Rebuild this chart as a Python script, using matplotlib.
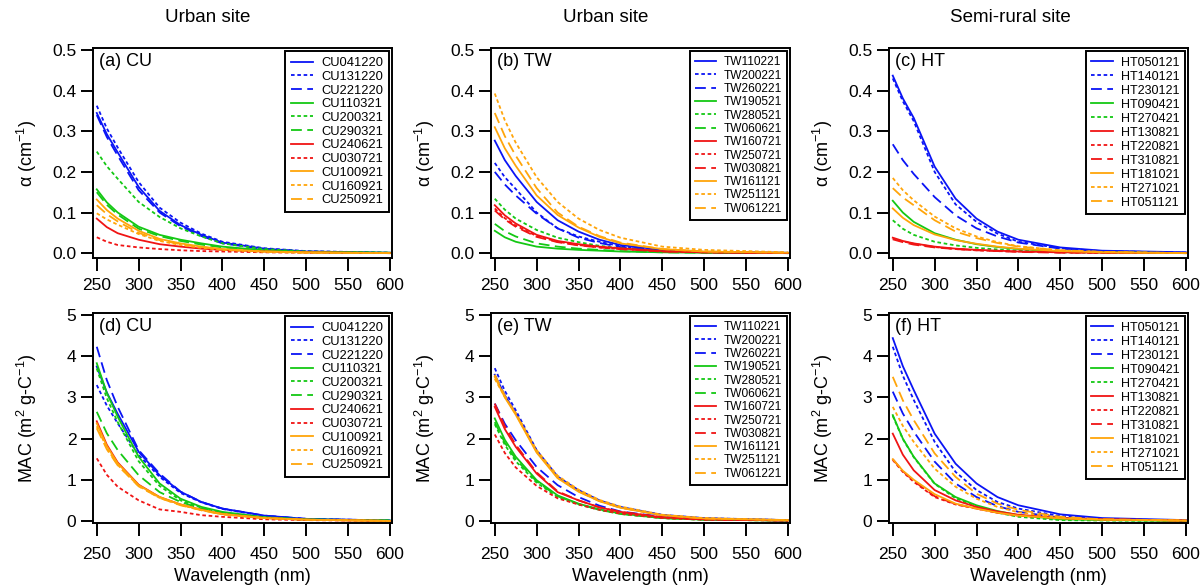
import matplotlib
matplotlib.use("Agg")
import matplotlib.pyplot as plt

plt.rcParams['font.family'] = ['Liberation Sans', 'DejaVu Sans']
plt.rcParams['mathtext.fontset'] = 'custom'
plt.rcParams['mathtext.rm'] = 'Liberation Sans'
plt.rcParams['mathtext.it'] = 'Liberation Sans:italic'

# ---------------- data ----------------
wl = [250, 262, 275, 300, 325, 350, 375, 400, 450, 500, 600]
x_ticks = [250, 300, 350, 400, 450, 500, 550, 600]
alpha_ticks = [0.0, 0.1, 0.2, 0.3, 0.4, 0.5]
mac_ticks = [0, 1, 2, 3, 4, 5]

cu_names = ["CU041220", "CU131220", "CU221220", "CU110321", "CU200321", "CU290321",
            "CU240621", "CU030721", "CU100921", "CU160921", "CU250921"]
cu_alpha = [
    [0.345, 0.293, 0.248, 0.163, 0.104, 0.069, 0.045, 0.026, 0.011, 0.004, 0.001],
    [0.363, 0.307, 0.260, 0.175, 0.112, 0.075, 0.048, 0.028, 0.012, 0.005, 0.001],
    [0.340, 0.286, 0.240, 0.155, 0.100, 0.066, 0.042, 0.024, 0.010, 0.004, 0.000],
    [0.157, 0.125, 0.100, 0.065, 0.045, 0.033, 0.024, 0.016, 0.007, 0.003, 0.001],
    [0.250, 0.214, 0.183, 0.126, 0.089, 0.061, 0.041, 0.024, 0.010, 0.004, 0.001],
    [0.150, 0.119, 0.095, 0.060, 0.042, 0.030, 0.021, 0.014, 0.006, 0.002, 0.000],
    [0.085, 0.064, 0.049, 0.033, 0.022, 0.016, 0.011, 0.008, 0.004, 0.002, 0.000],
    [0.039, 0.028, 0.020, 0.014, 0.010, 0.007, 0.005, 0.004, 0.002, 0.001, 0.000],
    [0.132, 0.106, 0.085, 0.055, 0.035, 0.024, 0.016, 0.010, 0.004, 0.002, 0.000],
    [0.098, 0.083, 0.070, 0.047, 0.030, 0.020, 0.013, 0.008, 0.003, 0.001, 0.000],
    [0.118, 0.096, 0.078, 0.050, 0.032, 0.022, 0.015, 0.009, 0.004, 0.001, 0.000],
]
cu_mac = [
    [3.75, 3.12, 2.60, 1.68, 1.11, 0.71, 0.46, 0.30, 0.13, 0.05, 0.01],
    [3.30, 2.80, 2.37, 1.60, 1.07, 0.68, 0.45, 0.29, 0.12, 0.05, 0.01],
    [4.23, 3.42, 2.77, 1.72, 1.15, 0.71, 0.46, 0.30, 0.13, 0.05, 0.01],
    [3.83, 3.11, 2.53, 1.56, 0.91, 0.54, 0.34, 0.22, 0.09, 0.04, 0.01],
    [3.70, 2.98, 2.40, 1.45, 0.85, 0.50, 0.32, 0.20, 0.08, 0.03, 0.01],
    [2.65, 2.13, 1.72, 1.11, 0.70, 0.46, 0.30, 0.19, 0.08, 0.03, 0.01],
    [2.42, 1.85, 1.42, 0.88, 0.58, 0.40, 0.27, 0.17, 0.07, 0.03, 0.00],
    [1.52, 1.12, 0.83, 0.50, 0.28, 0.22, 0.14, 0.10, 0.04, 0.02, 0.00],
    [2.37, 1.82, 1.40, 0.87, 0.58, 0.40, 0.27, 0.17, 0.07, 0.03, 0.00],
    [2.30, 1.77, 1.36, 0.85, 0.56, 0.39, 0.26, 0.16, 0.07, 0.03, 0.00],
    [2.25, 1.74, 1.35, 0.84, 0.56, 0.38, 0.26, 0.16, 0.07, 0.03, 0.00],
]

tw_names = ["TW110221", "TW200221", "TW260221", "TW190521", "TW280521", "TW060621",
            "TW160721", "TW250721", "TW030821", "TW161121", "TW251121", "TW061221"]
tw_alpha = [
    [0.277, 0.229, 0.190, 0.126, 0.081, 0.053, 0.033, 0.020, 0.008, 0.003, 0.001],
    [0.222, 0.187, 0.158, 0.100, 0.061, 0.041, 0.028, 0.017, 0.007, 0.003, 0.000],
    [0.200, 0.169, 0.142, 0.097, 0.061, 0.038, 0.025, 0.015, 0.006, 0.002, 0.000],
    [0.055, 0.039, 0.028, 0.016, 0.011, 0.008, 0.006, 0.004, 0.002, 0.001, 0.000],
    [0.134, 0.107, 0.085, 0.057, 0.038, 0.027, 0.018, 0.012, 0.005, 0.002, 0.000],
    [0.072, 0.054, 0.041, 0.024, 0.016, 0.011, 0.008, 0.005, 0.002, 0.001, 0.000],
    [0.118, 0.093, 0.073, 0.045, 0.030, 0.022, 0.016, 0.012, 0.005, 0.002, 0.000],
    [0.110, 0.086, 0.068, 0.042, 0.028, 0.020, 0.014, 0.010, 0.004, 0.002, 0.000],
    [0.105, 0.083, 0.065, 0.040, 0.027, 0.019, 0.014, 0.010, 0.004, 0.002, 0.000],
    [0.310, 0.258, 0.215, 0.142, 0.094, 0.063, 0.040, 0.024, 0.010, 0.004, 0.001],
    [0.393, 0.327, 0.272, 0.187, 0.126, 0.085, 0.057, 0.038, 0.016, 0.008, 0.002],
    [0.345, 0.288, 0.240, 0.160, 0.100, 0.065, 0.042, 0.026, 0.010, 0.004, 0.001],
]
tw_mac = [
    [3.55, 3.05, 2.62, 1.70, 1.08, 0.73, 0.49, 0.33, 0.14, 0.06, 0.02],
    [3.71, 3.16, 2.69, 1.72, 1.07, 0.75, 0.50, 0.34, 0.15, 0.07, 0.02],
    [2.85, 2.36, 1.96, 1.31, 0.87, 0.58, 0.37, 0.23, 0.10, 0.04, 0.01],
    [2.49, 1.97, 1.56, 0.99, 0.62, 0.42, 0.28, 0.18, 0.07, 0.03, 0.01],
    [2.35, 1.85, 1.45, 0.93, 0.58, 0.40, 0.27, 0.17, 0.07, 0.03, 0.01],
    [2.40, 1.90, 1.50, 0.96, 0.60, 0.41, 0.27, 0.17, 0.07, 0.03, 0.01],
    [2.77, 2.23, 1.80, 1.15, 0.70, 0.50, 0.33, 0.22, 0.09, 0.04, 0.01],
    [2.10, 1.65, 1.30, 0.85, 0.55, 0.40, 0.27, 0.18, 0.07, 0.03, 0.01],
    [2.85, 2.30, 1.85, 1.18, 0.72, 0.50, 0.33, 0.22, 0.09, 0.04, 0.01],
    [3.50, 3.00, 2.58, 1.66, 1.04, 0.71, 0.48, 0.32, 0.14, 0.06, 0.02],
    [3.45, 3.01, 2.62, 1.72, 1.10, 0.76, 0.51, 0.35, 0.15, 0.07, 0.02],
    [3.55, 3.04, 2.60, 1.68, 1.05, 0.72, 0.48, 0.32, 0.14, 0.06, 0.02],
]

ht_names = ["HT050121", "HT140121", "HT230121", "HT090421", "HT270421", "HT130821",
            "HT220821", "HT310821", "HT181021", "HT271021", "HT051121"]
ht_alpha = [
    [0.437, 0.381, 0.333, 0.213, 0.134, 0.085, 0.053, 0.033, 0.014, 0.006, 0.002],
    [0.430, 0.374, 0.325, 0.200, 0.120, 0.077, 0.048, 0.028, 0.012, 0.005, 0.001],
    [0.268, 0.229, 0.195, 0.138, 0.093, 0.061, 0.041, 0.026, 0.011, 0.005, 0.001],
    [0.129, 0.100, 0.077, 0.049, 0.033, 0.022, 0.015, 0.010, 0.004, 0.002, 0.000],
    [0.081, 0.060, 0.045, 0.028, 0.019, 0.013, 0.009, 0.006, 0.002, 0.001, 0.000],
    [0.038, 0.030, 0.024, 0.016, 0.011, 0.008, 0.006, 0.004, 0.002, 0.001, 0.000],
    [0.036, 0.029, 0.023, 0.015, 0.010, 0.007, 0.005, 0.004, 0.002, 0.001, 0.000],
    [0.034, 0.027, 0.021, 0.014, 0.010, 0.007, 0.005, 0.003, 0.001, 0.001, 0.000],
    [0.110, 0.087, 0.069, 0.046, 0.032, 0.023, 0.016, 0.011, 0.005, 0.002, 0.000],
    [0.185, 0.155, 0.130, 0.090, 0.061, 0.041, 0.027, 0.017, 0.007, 0.003, 0.000],
    [0.160, 0.137, 0.118, 0.081, 0.053, 0.037, 0.025, 0.016, 0.007, 0.003, 0.000],
]
ht_mac = [
    [4.44, 3.76, 3.18, 2.12, 1.39, 0.91, 0.58, 0.38, 0.16, 0.07, 0.02],
    [4.23, 3.53, 2.94, 1.92, 1.19, 0.75, 0.46, 0.30, 0.12, 0.05, 0.01],
    [3.14, 2.61, 2.17, 1.44, 0.91, 0.58, 0.36, 0.22, 0.08, 0.03, 0.01],
    [2.57, 2.00, 1.56, 0.91, 0.58, 0.38, 0.24, 0.14, 0.04, 0.02, 0.00],
    [2.55, 1.99, 1.55, 0.90, 0.55, 0.35, 0.20, 0.10, 0.02, 0.01, 0.00],
    [2.12, 1.61, 1.23, 0.75, 0.50, 0.34, 0.23, 0.15, 0.07, 0.04, 0.01],
    [1.48, 1.19, 0.95, 0.58, 0.40, 0.30, 0.20, 0.13, 0.07, 0.04, 0.01],
    [1.50, 1.21, 0.97, 0.60, 0.41, 0.30, 0.20, 0.13, 0.07, 0.04, 0.01],
    [1.50, 1.22, 1.00, 0.65, 0.42, 0.30, 0.20, 0.13, 0.06, 0.03, 0.01],
    [2.77, 2.31, 1.92, 1.27, 0.83, 0.54, 0.34, 0.21, 0.08, 0.03, 0.01],
    [3.50, 2.93, 2.45, 1.64, 1.07, 0.66, 0.42, 0.27, 0.10, 0.04, 0.01],
]

col_titles = ["Urban site", "Urban site", "Semi-rural site"]
top_labels = ["(a) CU", "(b) TW", "(c) HT"]
bot_labels = ["(d) CU", "(e) TW", "(f) HT"]

# ---------------- styles ----------------
BLUE, GREEN, RED, ORANGE = '#0a14f5', '#14c814', '#f01414', '#ffa50a'
SOLID = '-'
DOT = (0, (2.0, 1.5))
DASH = (0, (6.0, 3.0))

cu_styles = [(BLUE, SOLID), (BLUE, DOT), (BLUE, DASH),
             (GREEN, SOLID), (GREEN, DOT), (GREEN, DASH),
             (RED, SOLID), (RED, DOT),
             (ORANGE, SOLID), (ORANGE, DOT), (ORANGE, DASH)]
tw_styles = [(BLUE, SOLID), (BLUE, DOT), (BLUE, DASH),
             (GREEN, SOLID), (GREEN, DOT), (GREEN, DASH),
             (RED, SOLID), (RED, DOT), (RED, DASH),
             (ORANGE, SOLID), (ORANGE, DOT), (ORANGE, DASH)]
ht_styles = [(BLUE, SOLID), (BLUE, DOT), (BLUE, DASH),
             (GREEN, SOLID), (GREEN, DOT),
             (RED, SOLID), (RED, DOT), (RED, DASH),
             (ORANGE, SOLID), (ORANGE, DOT), (ORANGE, DASH)]

fig = plt.figure(figsize=(12.03, 5.87), dpi=100)
W, H = 1203.0, 587.0

col_left = [93, 491, 889]
col_w = 299
row_top = [48, 313]
row_h = 210
leg_font = [9.3, 8.6, 9.0]
leg_space = [0.13, 0.11, 0.16]
xpad = [5.5, 8.5]

panels = [
    (0, 0, cu_names, cu_alpha, cu_styles, top_labels[0]),
    (0, 1, tw_names, tw_alpha, tw_styles, top_labels[1]),
    (0, 2, ht_names, ht_alpha, ht_styles, top_labels[2]),
    (1, 0, cu_names, cu_mac, cu_styles, bot_labels[0]),
    (1, 1, tw_names, tw_mac, tw_styles, bot_labels[1]),
    (1, 2, ht_names, ht_mac, ht_styles, bot_labels[2]),
]

for row, col, names, vals, styles, lab in panels:
    l = col_left[col] / W
    b = 1 - (row_top[row] + row_h) / H
    ax = fig.add_axes([l, b, col_w / W, row_h / H])
    for name, v, (c, ls) in zip(names, vals, styles):
        ax.plot(wl, v, color=c, linestyle=ls, lw=1.3, label=name)
    ax.set_xlim(245.5, 602.5)
    ax.set_xticks(x_ticks)
    if row == 0:
        ax.set_ylim(-0.012, 0.505)
        ax.set_yticks(alpha_ticks)
        ax.set_yticklabels([f"{t:.1f}" for t in alpha_ticks])
        ax.set_ylabel(r"α (cm$^{\mathregular{-1}}$)", fontsize=13)
    else:
        ax.set_ylim(-0.05, 5.05)
        ax.set_yticks(mac_ticks)
        ax.set_ylabel(r"MAC (m$^{\mathregular{2}}$ g-C$^{\mathregular{-1}}$)", fontsize=13)
        ax.set_xlabel("Wavelength (nm)", fontsize=13, labelpad=4)
    ax.yaxis.set_label_coords(-0.18, 0.5)
    for s in ax.spines.values():
        s.set_linewidth(1.4)
    ax.tick_params(axis='y', direction='out', length=9, width=1.4, labelsize=12.5, pad=3)
    ax.tick_params(axis='x', direction='out', length=9, width=1.4, labelsize=12.5,
                   pad=xpad[row])
    ax.text(0.02, 0.975, lab, transform=ax.transAxes, ha='left', va='top', fontsize=13)
    leg = ax.legend(loc='upper right', fontsize=leg_font[col], frameon=True, fancybox=False,
                    edgecolor='black', framealpha=1, borderaxespad=0.25,
                    handlelength=1.75, handletextpad=0.6, labelspacing=leg_space[col],
                    borderpad=0.45)
    leg.get_frame().set_linewidth(1.4)

title_x = [208, 606, 1010]
for x, t in zip(title_x, col_titles):
    fig.text(x / W, 1 - 18 / H, t, ha='center', va='center', fontsize=13.5)

fig.savefig("out.png", dpi=100)
